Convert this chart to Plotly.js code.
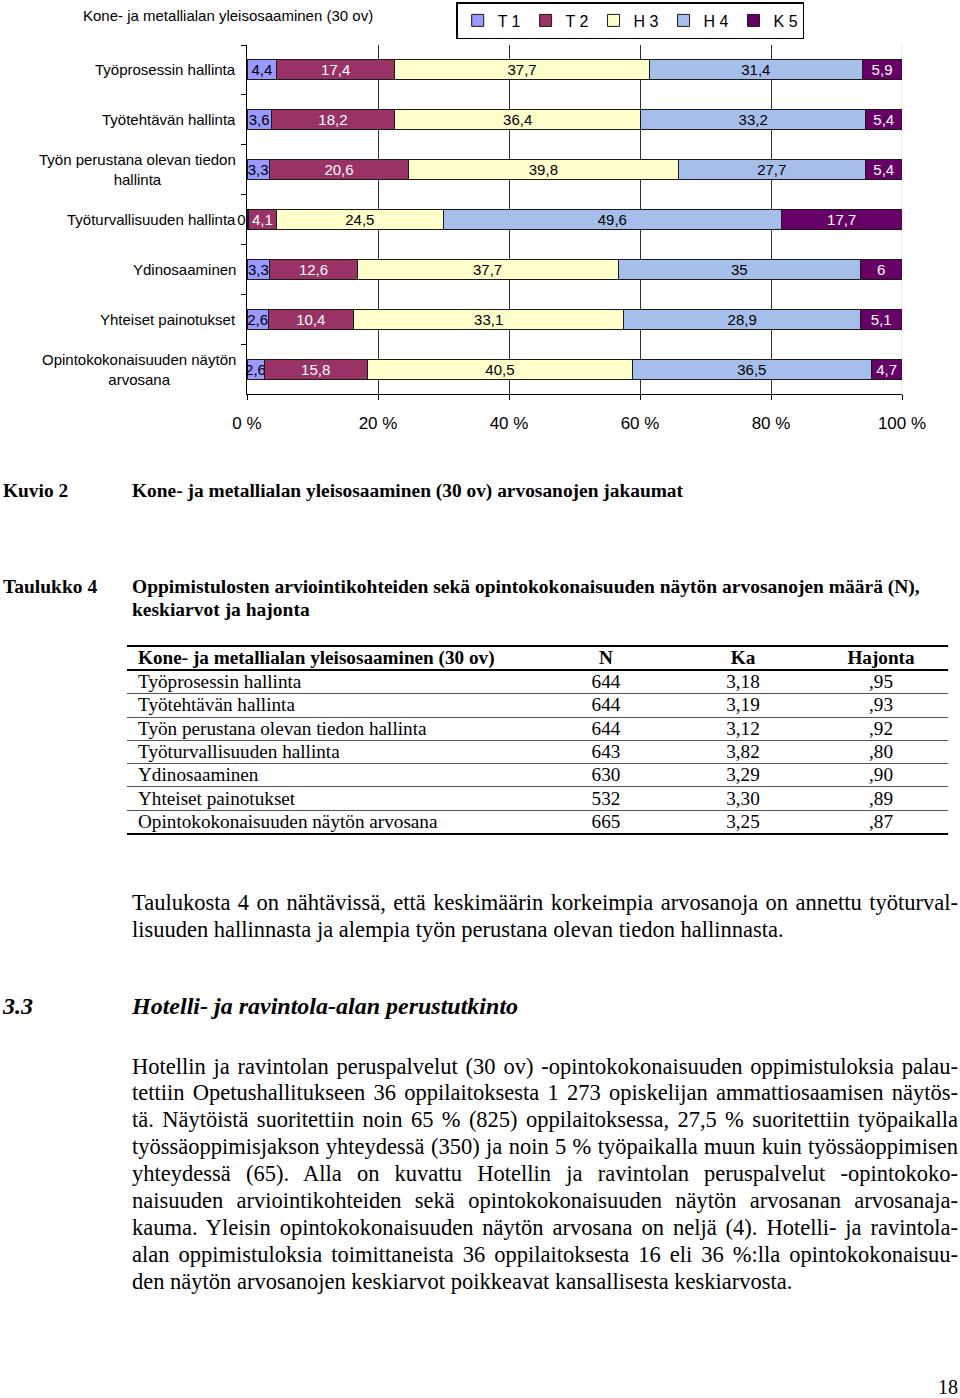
<!DOCTYPE html>
<html><head><meta charset="utf-8">
<script src="https://cdn.plot.ly/plotly-3.0.1.min.js"></script>
<style>
html,body{margin:0;padding:0;background:#fff;}
body{width:960px;height:1398px;position:relative;overflow:hidden;font-family:"Liberation Serif","DejaVu Serif",serif;color:#000;}
#chart{position:absolute;left:0;top:0;width:960px;height:440px;}
.abs{position:absolute;white-space:nowrap;}
.line{position:absolute;left:132px;white-space:nowrap;}
.jl{display:inline-block;white-space:nowrap;}
table.t{position:absolute;left:127px;top:645px;width:821px;border-collapse:collapse;font-size:19.2px;}
table.t td{padding:0;height:22.3px;line-height:22px;}
table.t td.c{text-align:center;}
table.t td.n{padding-left:11px;}
table.t tr.h td{font-weight:bold;border-top:2.5px solid #000;border-bottom:2px solid #000;height:21px;}
table.t tr.r td{border-bottom:1px solid #555;}
table.t tr.last td{border-bottom:2.5px solid #000;}
</style></head><body>
<div id="chart"></div>

<div class="abs" style="left:3px;top:480px;font-size:19.4px;line-height:22px;font-weight:bold;">Kuvio 2</div>
<div class="abs" style="left:132px;top:480px;font-size:19.4px;line-height:22px;font-weight:bold;">Kone- ja metallialan yleisosaaminen (30 ov) arvosanojen jakaumat</div>

<div class="abs" style="left:3px;top:575px;font-size:19.5px;line-height:23px;font-weight:bold;">Taulukko 4</div>
<div class="abs" style="left:132px;top:575px;font-size:19.5px;line-height:23px;font-weight:bold;">Oppimistulosten arviointikohteiden sekä opintokokonaisuuden näytön arvosanojen määrä (N),<br>keskiarvot ja hajonta</div>

<table class="t" id="tbl">
<colgroup><col style="width:413px"><col style="width:132px"><col style="width:142px"><col style="width:134px"></colgroup>
<tbody></tbody>
</table>

<div class="line" style="top:888.5px;font-size:22.5px;line-height:27px;"><span class="jl">Taulukosta 4 on nähtävissä, että keskimäärin korkeimpia arvosanoja on annettu työturval-</span></div>
<div class="line" style="top:915.5px;font-size:22.5px;line-height:27px;">lisuuden hallinnasta ja alempia työn perustana olevan tiedon hallinnasta.</div>

<div class="abs" style="left:3px;top:993px;font-size:24px;line-height:26px;font-weight:bold;font-style:italic;">3.3</div>
<div class="abs" style="left:132px;top:993px;font-size:24px;line-height:26px;font-weight:bold;font-style:italic;">Hotelli- ja ravintola-alan perustutkinto</div>

<div id="p2"></div>

<div class="abs" style="right:2px;top:1375px;font-size:20px;line-height:24px;">18</div>

<script>
// ---- chart data ----
var categories = ['Työprosessin hallinta','Työtehtävän hallinta','Työn perustana olevan tiedon hallinta','Työturvallisuuden hallinta','Ydinosaaminen','Yhteiset painotukset','Opintokokonaisuuden näytön arvosana'];
var categoryLabels = ['Työprosessin hallinta','Työtehtävän hallinta','Työn perustana olevan tiedon<br>hallinta','Työturvallisuuden hallinta','Ydinosaaminen','Yhteiset painotukset','Opintokokonaisuuden näytön<br>arvosana'];
var seriesNames = ['T 1','T 2','H 3','H 4','K 5'];
var T1 = [4.4, 3.6, 3.3, 0.2, 3.3, 2.6, 2.6];
var T2 = [17.4, 18.2, 20.6, 4.1, 12.6, 10.4, 15.8];
var H3 = [37.7, 36.4, 39.8, 24.5, 37.7, 33.1, 40.5];
var H4 = [31.4, 33.2, 27.7, 49.6, 35, 28.9, 36.5];
var K5 = [5.9, 5.4, 5.4, 17.7, 6, 5.1, 4.7];
var xTickVals = [0, 20, 40, 60, 80, 100];
var xTickText = ['0 %', '20 %', '40 %', '60 %', '80 %', '100 %'];
var chartTitle = 'Kone- ja metallialan yleisosaaminen (30 ov)';

// ---- table data ----
var tableHeader = ['Kone- ja metallialan yleisosaaminen (30 ov)','N','Ka','Hajonta'];
var tableRows = ['Työprosessin hallinta','Työtehtävän hallinta','Työn perustana olevan tiedon hallinta','Työturvallisuuden hallinta','Ydinosaaminen','Yhteiset painotukset','Opintokokonaisuuden näytön arvosana'];
var tableN = [644, 644, 644, 643, 630, 532, 665];
var tableKa = [3.18, 3.19, 3.12, 3.82, 3.29, 3.30, 3.25];
var tableHajonta = [0.95, 0.93, 0.92, 0.80, 0.90, 0.89, 0.87];

// ---- paragraph ----
var p2Lines = [
'Hotellin ja ravintolan peruspalvelut (30 ov) -opintokokonaisuuden oppimistuloksia palau-',
'tettiin Opetushallitukseen 36 oppilaitoksesta 1 273 opiskelijan ammattiosaamisen näytös-',
'tä. Näytöistä suoritettiin noin 65 % (825) oppilaitoksessa, 27,5 % suoritettiin työpaikalla',
'työssäoppimisjakson yhteydessä (350) ja noin 5 % työpaikalla muun kuin työssäoppimisen',
'yhteydessä (65). Alla on kuvattu Hotellin ja ravintolan peruspalvelut -opintokoko-',
'naisuuden arviointikohteiden sekä opintokokonaisuuden näytön arvosanan arvosanaja-',
'kauma. Yleisin opintokokonaisuuden näytön arvosana on neljä (4). Hotelli- ja ravintola-',
'alan oppimistuloksia toimittaneista 36 oppilaitoksesta 16 eli 36 %:lla opintokokonaisuu-',
'den näytön arvosanojen keskiarvot poikkeavat kansallisesta keskiarvosta.'
];

function fmt(v){ return String(v).replace('.', ','); }

var colors = ['#9999ff', '#993366', '#ffffcc', '#a6bfea', '#660066'];
var textColors = ['#000', '#fff', '#000', '#000', '#fff'];
var series = [T1, T2, H3, H4, K5];
var FONT = 'Liberation Sans, Arial, sans-serif';

var traces = series.map(function(vals, i){
  return {
    type: 'bar', orientation: 'h', name: seriesNames[i],
    y: categories, x: vals,
    text: vals.map(fmt), textposition: 'inside', insidetextanchor: 'middle',
    textangle: 0, constraintext: 'none', cliponaxis: false,
    insidetextfont: {family: FONT, size: 15, color: textColors[i]},
    marker: {color: colors[i], line: {color: '#1a1a1a', width: 1}},
    width: 0.4, hoverinfo: 'skip'
  };
});

var annotations = categories.map(function(c, i){
  return {xref: 'paper', yref: 'y', x: 0, y: c, xanchor: 'right', yanchor: 'middle',
    xshift: -9, text: categoryLabels[i], showarrow: false, align: 'center',
    font: {family: FONT, size: 15, color: '#000'}};
});

var layout = {
  width: 960, height: 440,
  margin: {l: 247, r: 58, t: 45, b: 46, autoexpand: false},
  paper_bgcolor: '#fff', plot_bgcolor: '#fff',
  barmode: 'stack', barnorm: 'percent',
  separators: ', ',
  showlegend: true,
  title: {text: chartTitle, font: {family: FONT, size: 15, color: '#000'},
    xref: 'container', x: 83/960, xanchor: 'left', yref: 'container', y: 1 - 16/440, yanchor: 'middle'},
  legend: {orientation: 'h', x: 0.585, xanchor: 'center', y: 1 + 43/349, yanchor: 'top',
    bordercolor: '#000', borderwidth: 1.5, bgcolor: '#fff',
    font: {family: FONT, size: 16, color: '#000'}, traceorder: 'normal'},
  xaxis: {range: [0, 100], tickmode: 'array', tickvals: xTickVals, ticktext: xTickText, showgrid: true, gridcolor: '#333', gridwidth: 1,
    zeroline: false, showline: true, linecolor: '#000', linewidth: 1, ticks: 'outside', ticklen: 5, tickcolor: '#000',
    ticklabelstandoff: 9, tickfont: {family: FONT, size: 17, color: '#000'}, fixedrange: true},
  yaxis: {type: 'category', categoryorder: 'array', categoryarray: categories, autorange: 'reversed',
    showticklabels: false, ticks: 'outside', tickson: 'boundaries', ticklen: 5, tickcolor: '#000',
    showline: true, linecolor: '#000', linewidth: 1, showgrid: false, zeroline: false, fixedrange: true},
  shapes: [{type: 'line', xref: 'x', yref: 'paper', x0: 100, x1: 100, y0: 0, y1: 1, layer: 'between',
    line: {color: '#d4d4d4', width: 1}}],
  annotations: annotations
};

Plotly.newPlot('chart', traces, layout, {displayModeBar: false, staticPlot: true});

// ---- table ----
var tb = document.querySelector('#tbl tbody');
var hr = document.createElement('tr'); hr.className = 'h';
tableHeader.forEach(function(h, j){ var td = document.createElement('td'); td.textContent = h; td.className = j ? 'c' : 'n'; hr.appendChild(td); });
tb.appendChild(hr);
tableRows.forEach(function(name, i){
  var tr = document.createElement('tr'); tr.className = (i === tableRows.length - 1) ? 'last' : 'r';
  var cells = [name, String(tableN[i]), tableKa[i].toFixed(2).replace('.', ','), tableHajonta[i].toFixed(2).replace('0.', ',')];
  cells.forEach(function(c, j){ var td = document.createElement('td'); td.textContent = c; td.className = j ? 'c' : 'n'; tr.appendChild(td); });
  tb.appendChild(tr);
});

// ---- paragraph ----
var p2 = document.getElementById('p2');
p2Lines.forEach(function(t, i){
  var d = document.createElement('div'); d.className = 'line';
  d.style.top = (1052.5 + i * 26.9) + 'px'; d.style.fontSize = '22.5px'; d.style.lineHeight = '27px';
  var s = document.createElement('span');
  if (i < p2Lines.length - 1) s.className = 'jl';
  s.textContent = t; d.appendChild(s); p2.appendChild(d);
});

function justify(){
  document.querySelectorAll('.jl').forEach(function(el){
    el.style.wordSpacing = '0px';
    var w = el.getBoundingClientRect().width;
    var n = (el.textContent.match(/ /g) || []).length;
    if (n > 0) el.style.wordSpacing = ((826 - w) / n) + 'px';
  });
}
justify();
if (document.fonts && document.fonts.ready) document.fonts.ready.then(justify);
</script>
</body></html>
